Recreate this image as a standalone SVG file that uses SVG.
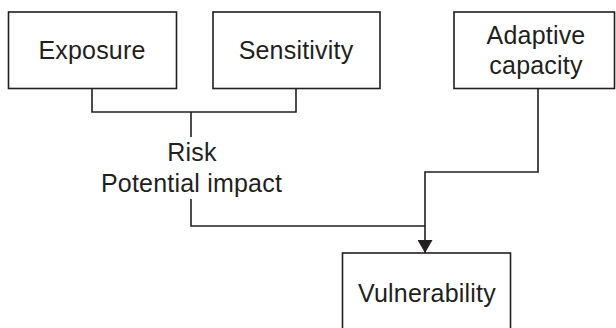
<svg xmlns="http://www.w3.org/2000/svg" width="616" height="328" viewBox="0 0 616 328">
<style>
.box{fill:#fff;stroke:#231f20;stroke-width:1.6}
.ln{fill:none;stroke:#231f20;stroke-width:1.6}
text{font-family:"Liberation Sans",Arial,sans-serif;font-size:25px;letter-spacing:0.2px;fill:#231f20;text-anchor:middle}
</style>
<defs>
<marker id="arr" markerUnits="userSpaceOnUse" markerWidth="16" markerHeight="15" refX="15" refY="8" orient="auto" viewBox="0 0 16 16">
<path d="M1,0 L15,8 L1,16 Z" fill="#231f20"/>
</marker>
</defs>
<rect width="616" height="328" fill="#fff"/>
<g id="connectors">
<path class="ln" d="M92,88.5 V112 H296 V88.5"/>
<path class="ln" d="M191,112 V137"/>
<path class="ln" d="M191,199 V226 H425"/>
<path class="ln" d="M538,88.5 V172 H425 V253" marker-end="url(#arr)"/>
</g>
<g id="exposure">
<rect class="box" x="8.5" y="12" width="168" height="76.5"/>
<text x="92" y="58.5">Exposure</text>
</g>
<g id="sensitivity">
<rect class="box" x="213" y="12" width="167" height="76.5"/>
<text x="296" y="58.5">Sensitivity</text>
</g>
<g id="adaptive">
<rect class="box" x="454" y="12" width="160.5" height="76.5"/>
<text x="536" y="44">Adaptive</text>
<text x="536" y="74">capacity</text>
</g>
<g id="risk">
<text x="192" y="161">Risk</text>
<text x="191.5" y="192">Potential impact</text>
</g>
<g id="vulnerability">
<rect class="box" x="342.5" y="253" width="168" height="80"/>
<text x="427" y="302">Vulnerability</text>
</g>
</svg>
